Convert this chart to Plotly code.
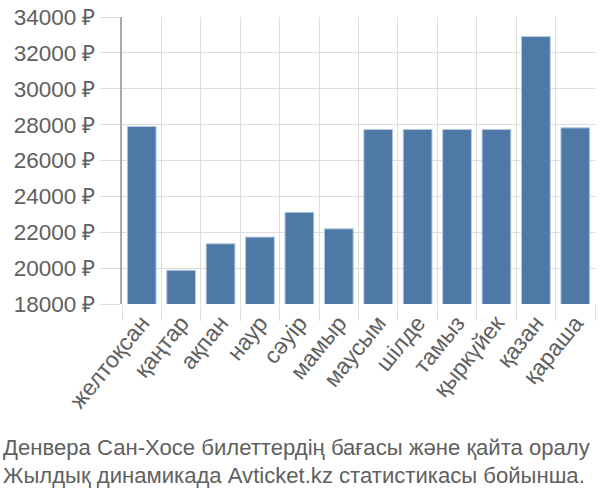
import plotly.graph_objects as go

months = ["желтоқсан", "қаңтар", "ақпан", "наур", "сәуір", "мамыр",
          "маусым", "шілде", "тамыз", "қыркүйек", "қазан", "қараша"]
prices = [27900, 19880, 21360, 21730, 23110, 22190,
          27730, 27730, 27730, 27730, 32910, 27820]
y_ticks = [18000, 20000, 22000, 24000, 26000, 28000, 30000, 32000, 34000]
y_tick_labels = [f"{v} ₽" for v in y_ticks]
caption_lines = ["Денвера Сан-Хосе билеттердің бағасы және қайта оралу",
                 "Жылдық динамикада Avticket.kz статистикасы бойынша."]

FONT = "Liberation Sans"
TXT = "#606060"

fig = go.Figure(go.Bar(
    x=months, y=prices,
    marker=dict(color="#4e79a7", line=dict(color="#b8cbe0", width=1)),
))

fig.update_layout(
    width=600, height=500,
    margin=dict(l=122, r=5, t=15, b=196),
    paper_bgcolor="white", plot_bgcolor="white",
    bargap=0.27,
    showlegend=False,
    font=dict(family=FONT, color=TXT),
)
fig.update_xaxes(
    type="category", tickson="boundaries",
    showgrid=True, gridcolor="#dddddd", gridwidth=1,
    ticks="outside", ticklen=16, tickcolor="#dddddd",
    tickangle=-51, tickfont=dict(size=23, family=FONT, color=TXT),
    showline=False, zeroline=False,
)
fig.update_yaxes(
    range=[18000, 34000],
    tickvals=y_ticks, ticktext=y_tick_labels,
    showgrid=True, gridcolor="#dddddd", gridwidth=1,
    ticks="outside", ticklen=20, tickcolor="#dddddd",
    tickfont=dict(size=22.5, family=FONT, color=TXT),
    showline=True, linecolor="#aaaaaa", linewidth=2,
    zeroline=False,
)
for i, line in enumerate(caption_lines):
    fig.add_annotation(
        text=line, xref="paper", yref="paper",
        x=-121/473, y=-(448 - 304)/289 - (29/289) * i,
        xanchor="left", yanchor="middle", showarrow=False,
        font=dict(size=22.1, family=FONT, color=TXT),
    )

fig.write_html("out.html")
